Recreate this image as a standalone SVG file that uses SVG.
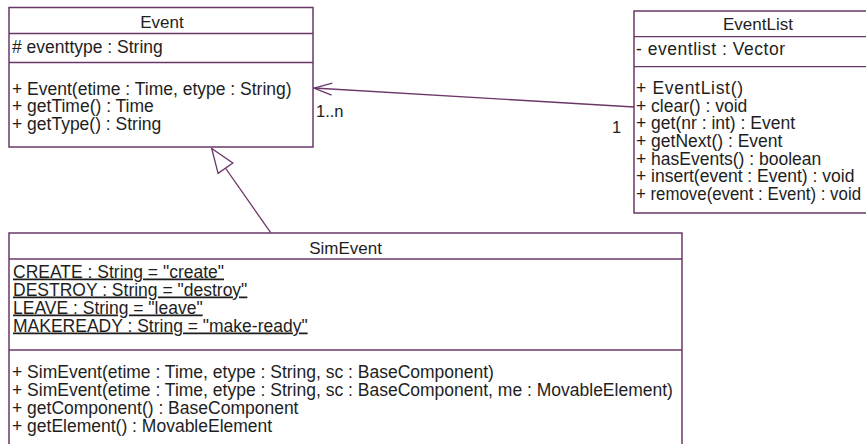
<svg xmlns="http://www.w3.org/2000/svg" width="866" height="444" viewBox="0 0 866 444">
<style>
  .box { fill: #ffffff; stroke: #6a3768; stroke-width: 1.5; }
  .div { stroke: #6a3768; stroke-width: 1.3; fill: none; }
  .t { font-family: "Liberation Sans", Arial, sans-serif; font-size: 17.5px; fill: #1e1e1e; }
  .h { font-size: 17px; text-anchor: middle; }
  .l { font-size: 16.5px; }
  .u { text-decoration: underline; }
  .conn { stroke: #6a3768; stroke-width: 1.3; fill: none; }
</style>
<defs>
  <marker id="open" markerUnits="userSpaceOnUse" markerWidth="24" markerHeight="20" viewBox="-20 -10 24 20" refX="0" refY="0" orient="auto" overflow="visible">
    <path d="M-18,-6 L0,0 L-18,6" fill="none" stroke="#6a3768" stroke-width="1.3"/>
  </marker>
  <marker id="tri" markerUnits="userSpaceOnUse" markerWidth="30" markerHeight="24" viewBox="-26 -12 30 24" refX="0" refY="0" orient="auto" overflow="visible">
    <path d="M0,0 L-24,-9 L-24,9 Z" fill="#ffffff" stroke="#6a3768" stroke-width="1.3"/>
  </marker>
</defs>
<rect width="866" height="444" fill="#ffffff"/>

<g id="connectors">
  <line class="conn" x1="634" y1="107" x2="314" y2="88" marker-end="url(#open)"/>
  <line class="conn" x1="270.7" y1="232.7" x2="211.7" y2="148.5" marker-end="url(#tri)"/>
  <text class="t l" x="316" y="117">1..n</text>
  <text class="t l" x="612" y="133">1</text>
</g>

<g id="Event">
  <rect class="box" x="9" y="7.5" width="304" height="139.5"/>
  <line class="div" x1="9" y1="33.5" x2="313" y2="33.5"/>
  <line class="div" x1="9" y1="62.5" x2="313" y2="62.5"/>
  <text class="t h" x="162" y="28">Event</text>
  <text class="t" x="12" y="53">#  eventtype : String</text>
  <text class="t" x="12" y="94.5">+ Event(etime : Time, etype : String)</text>
  <text class="t" x="12" y="112">+ getTime() : Time</text>
  <text class="t" x="12" y="129.5">+ getType() : String</text>
</g>

<g id="EventList">
  <rect class="box" x="634" y="11" width="250" height="202"/>
  <line class="div" x1="634" y1="36.7" x2="866" y2="36.7"/>
  <line class="div" x1="634" y1="66.7" x2="866" y2="66.7"/>
  <text class="t h" x="758" y="29.5">EventList</text>
  <text class="t" x="636" y="55" textLength="149" lengthAdjust="spacing">- eventlist : Vector</text>
  <text class="t" x="636" y="94.3" textLength="107" lengthAdjust="spacing">+ EventList()</text>
  <text class="t" x="636" y="111.8">+ clear() : void</text>
  <text class="t" x="636" y="129.4">+ get(nr : int) : Event</text>
  <text class="t" x="636" y="147">+ getNext() : Event</text>
  <text class="t" x="636" y="164.6">+ hasEvents() : boolean</text>
  <text class="t" x="636" y="182.2">+ insert(event : Event) : void</text>
  <text class="t" x="636" y="199.8" textLength="225" lengthAdjust="spacingAndGlyphs">+ remove(event : Event) : void</text>
</g>

<g id="SimEvent">
  <rect class="box" x="9" y="233" width="673" height="230"/>
  <line class="div" x1="9" y1="259" x2="682" y2="259"/>
  <line class="div" x1="9" y1="350" x2="682" y2="350"/>
  <text class="t h" x="345.5" y="254">SimEvent</text>
  <text class="t u" x="13" y="277.5">CREATE : String = "create"</text>
  <text class="t u" x="13" y="295.5">DESTROY : String = "destroy"</text>
  <text class="t u" x="13" y="313.5">LEAVE : String = "leave"</text>
  <text class="t u" x="13" y="331.5">MAKEREADY : String = "make-ready"</text>
  <text class="t" x="12" y="377.5">+ SimEvent(etime : Time, etype : String, sc : BaseComponent)</text>
  <text class="t" x="12" y="395.5">+ SimEvent(etime : Time, etype : String, sc : BaseComponent, me : MovableElement)</text>
  <text class="t" x="12" y="413.5">+ getComponent() : BaseComponent</text>
  <text class="t" x="12" y="431.5">+ getElement() : MovableElement</text>
</g>
</svg>
